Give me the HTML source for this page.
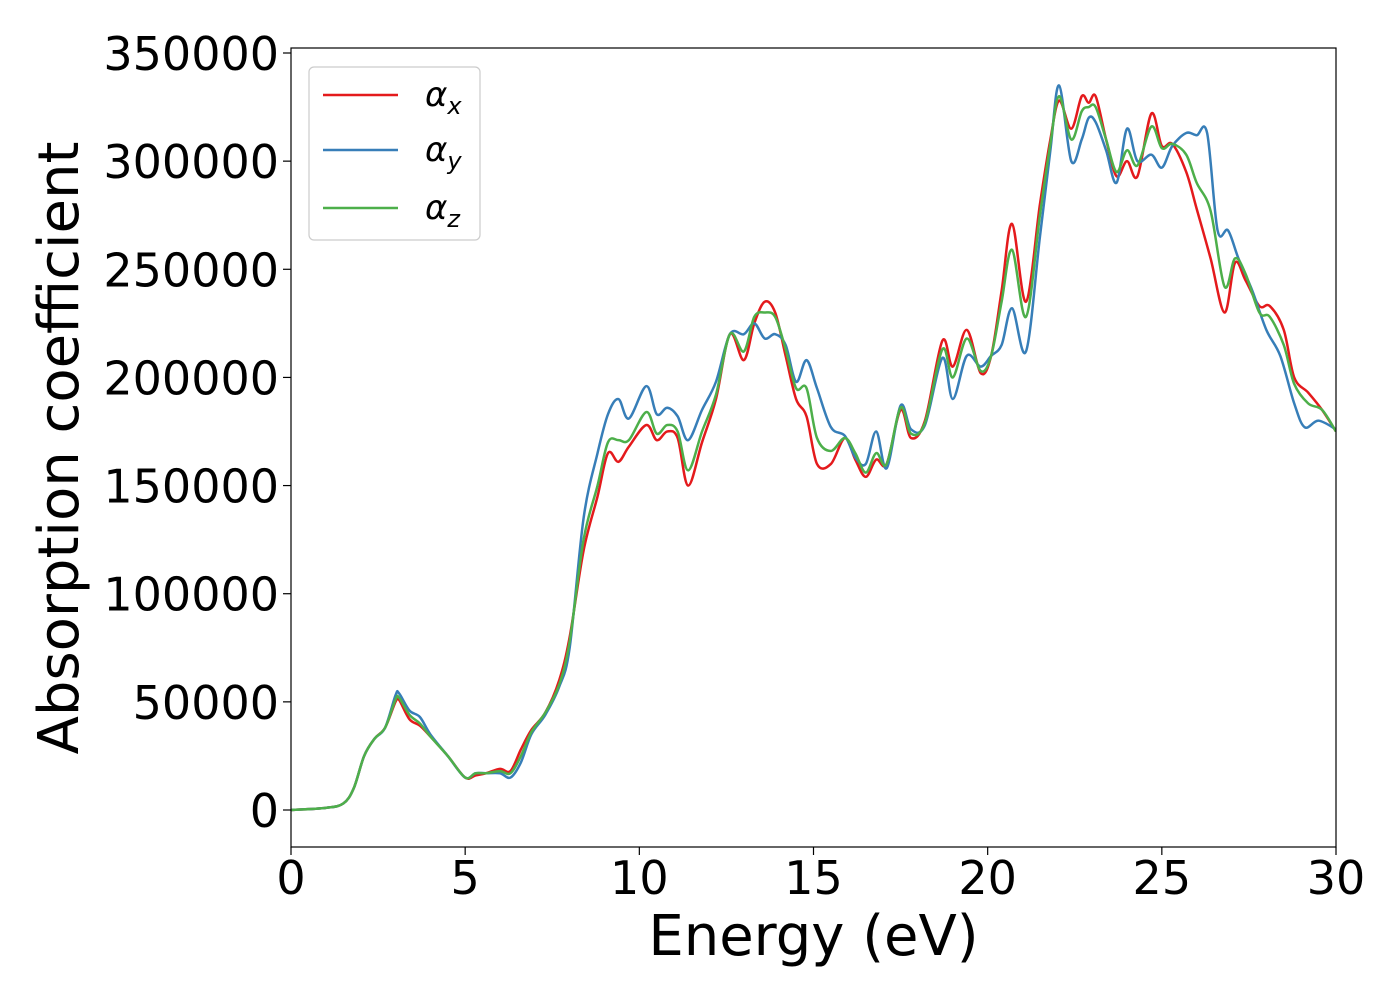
<!DOCTYPE html>
<html><head><meta charset="utf-8"><style>
body{margin:0;background:#fff;}
svg text{font-family:"DejaVu Sans","Liberation Sans",sans-serif;fill:#000;}
</style></head><body>
<svg id="chart" width="1400" height="1000" xmlns="http://www.w3.org/2000/svg">
<rect width="1400" height="1000" fill="#fff"/>
<g id="plot"></g>
</svg>
<script>
const xTicks=[0,5,10,15,20,25,30];
const yTicks=[0,50000,100000,150000,200000,250000,300000,350000];
const ex=[0,1,1.5,1.8,2.1,2.4,2.7,3.0,3.1,3.4,3.7,4.0,4.5,5.0,5.3,5.6,6.0,6.3,6.6,6.9,7.3,7.7,8.0,8.4,8.8,9.1,9.4,9.7,10.2,10.5,10.8,11.1,11.4,11.8,12.2,12.6,13.0,13.3,13.6,13.9,14.2,14.5,14.8,15.1,15.5,15.9,16.2,16.5,16.8,17.1,17.5,17.8,18.2,18.7,19.0,19.4,19.8,20.1,20.4,20.7,21.1,21.5,21.8,22.05,22.4,22.7,22.9,23.1,23.4,23.7,24.0,24.3,24.7,25.0,25.3,25.7,26.0,26.4,26.8,27.1,27.4,27.8,28.1,28.5,28.8,29.2,29.6,30];
const alphaX=[0,1,3,10,25,33,38,50,51,42,39,34,25,15,16,17,19,18,28,37,45,60,80,120,145,165,161,168,178,171,175,172,150,170,190,220,208,225,235,230,210,190,182,160,160,172,162,154,162,160,185,172,180,217,205,222,202,210,240,271,235,280,310,328,315,330,327,330,310,293,300,293,322,307,308,295,278,255,230,253,245,233,233,222,200,193,185,175];
const ey=[0,1,1.5,1.8,2.1,2.4,2.7,3.0,3.1,3.4,3.7,4.0,4.5,5.0,5.3,5.6,6.0,6.3,6.6,6.9,7.3,7.7,8.0,8.4,8.8,9.1,9.4,9.7,10.2,10.5,10.8,11.1,11.4,11.8,12.2,12.6,13.0,13.3,13.6,13.9,14.2,14.5,14.8,15.1,15.5,15.9,16.2,16.5,16.8,17.1,17.5,17.8,18.2,18.7,19.0,19.4,19.8,20.1,20.4,20.7,21.1,21.5,21.8,22.05,22.4,22.7,22.9,23.1,23.4,23.7,24.0,24.3,24.7,25.0,25.3,25.7,26.0,26.3,26.6,26.9,27.2,27.6,28.0,28.4,28.8,29.1,29.5,30];
const alphaY=[0,1,3,10,25,33,38,53,54,46,43,35,25,15,17,17,17,15,22,35,44,57,75,135,165,183,190,181,196,183,186,182,171,185,198,220,220,225,218,220,215,198,208,195,177,173,163,160,175,158,187,176,178,209,190,210,205,210,215,232,212,265,305,335,300,310,320,318,305,290,315,300,303,297,307,313,312,313,268,268,255,240,222,210,188,177,180,176];
const alphaZ=[0,1,3,10,25,33,38,51,52,44,40,34,25,15,17,17,18,17,25,36,45,58,78,125,150,170,171,171,184,174,178,175,157,175,192,220,212,228,230,228,213,195,195,172,166,172,165,156,165,160,186,174,179,213,200,218,203,210,235,259,228,275,308,330,310,323,325,325,310,295,305,298,316,306,308,303,290,277,242,255,248,230,228,215,197,188,185,175];
const L=291,R=1336,T=48,B=847;
const X=v=>L+(v/30)*(R-L);
const Y=v=>810-(v/350000)*757;
const NS="http://www.w3.org/2000/svg";
const g=document.getElementById('plot');
function mk(t,a,p){const e=document.createElementNS(NS,t);for(const k in a)e.setAttribute(k,a[k]);(p||g).appendChild(e);return e;}
function path(xs,vs){const p=xs.map((x,i)=>[X(x),Y(vs[i]*1000)]);let d=`M${p[0][0]},${p[0][1]}`;
for(let i=0;i<p.length-1;i++){const p0=p[Math.max(0,i-1)],p1=p[i],p2=p[i+1],p3=p[Math.min(p.length-1,i+2)];
const c1=[p1[0]+(p2[0]-p0[0])/6,p1[1]+(p2[1]-p0[1])/6],c2=[p2[0]-(p3[0]-p1[0])/6,p2[1]-(p3[1]-p1[1])/6];
d+=` C${c1[0]},${c1[1]} ${c2[0]},${c2[1]} ${p2[0]},${p2[1]}`;}return d;}
const clip=mk('clipPath',{id:'c'});mk('rect',{x:L,y:T,width:R-L,height:B-T},clip);
const series=[[ex,alphaX,'#e41a1c','line-alpha-x'],[ey,alphaY,'#377eb8','line-alpha-y'],[ex,alphaZ,'#4daf4a','line-alpha-z']];
series.forEach(s=>{const e=mk('path',{d:path(s[0],s[1]),fill:'none',stroke:s[2],'stroke-width':2.5,'clip-path':'url(#c)'});

});
const fr=mk('rect',{x:L,y:T,width:R-L,height:B-T,fill:'none',stroke:'#000','stroke-width':1.2});


xTicks.forEach(v=>{mk('line',{x1:X(v),x2:X(v),y1:B,y2:B+8,stroke:'#000','stroke-width':1.2});
const t=mk('text',{x:X(v),y:B+47,'text-anchor':'middle','font-size':46});t.textContent=v;

});
yTicks.forEach(v=>{mk('line',{x1:L-8,x2:L,y1:Y(v),y2:Y(v),stroke:'#000','stroke-width':1.2});
const t=mk('text',{x:L-12,y:Y(v)+17,'text-anchor':'end','font-size':46});t.textContent=v;

});
const xt=mk('text',{x:(L+R)/2,y:955,'text-anchor':'middle','font-size':56});xt.textContent='Energy (eV)';


const yt=mk('text',{x:0,y:0,'text-anchor':'middle','font-size':56,transform:`translate(78,448) rotate(-90)`});yt.textContent='Absorption coefficient';


const lg=mk('g',{});


mk('rect',{x:309,y:67,width:171,height:173,rx:5,fill:'#fff','fill-opacity':0.8,stroke:'#ccc','stroke-width':1.2},lg);
[['x','#e41a1c',95],['y','#377eb8',150],['z','#4daf4a',208]].forEach(e=>{
mk('line',{x1:323,x2:398,y1:e[2],y2:e[2],stroke:e[1],'stroke-width':2.5},lg);
const t=mk('text',{x:425,y:e[2]+11,'font-size':34,'font-style':'italic'},lg);
t.innerHTML=`α<tspan font-size="24" dy="8">${e[0]}</tspan>`;

});
</script>
</body></html>
